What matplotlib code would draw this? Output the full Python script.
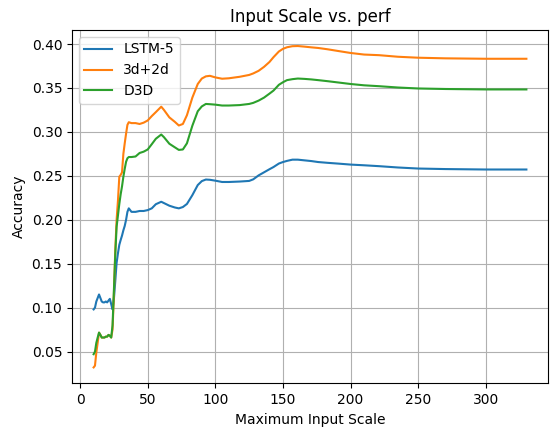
import matplotlib
matplotlib.use("Agg")
import matplotlib.pyplot as plt

x = [10, 11, 12, 13, 14, 15, 16, 17, 18, 19, 20, 21, 22, 23, 24, 25, 26, 27, 28, 29,
     30, 31, 32, 33, 34, 35, 36, 38, 41, 44, 47, 50, 53, 56, 60, 62, 66, 70, 73, 76,
     79, 83, 87, 90, 93, 96, 100, 105, 110, 118, 125, 128, 132, 136, 140, 143, 147,
     150, 153, 157, 161, 166, 171, 176, 183, 191, 200, 210, 221, 235, 250, 270, 300, 330]

lstm5 = [0.098, 0.100, 0.107, 0.111, 0.115, 0.111, 0.107, 0.106, 0.106, 0.107, 0.106,
         0.108, 0.110, 0.104, 0.098, 0.110, 0.130, 0.151, 0.162, 0.1715, 0.177, 0.182,
         0.188, 0.193, 0.200, 0.209, 0.213, 0.209, 0.209, 0.210, 0.210, 0.211, 0.213,
         0.2177, 0.2205, 0.219, 0.216, 0.214, 0.213, 0.2145, 0.218, 0.228, 0.2395,
         0.244, 0.2458, 0.2455, 0.2445, 0.243, 0.243, 0.2435, 0.2442, 0.246, 0.2505,
         0.254, 0.2575, 0.260, 0.264, 0.2657, 0.267, 0.2684, 0.2684, 0.2676, 0.2668,
         0.2657, 0.2648, 0.2639, 0.2628, 0.262, 0.261, 0.2595, 0.2583, 0.2577, 0.2572,
         0.2572]

d3d2d = [0.032, 0.034, 0.049, 0.060, 0.0716, 0.069, 0.066, 0.066, 0.066, 0.067, 0.067,
         0.069, 0.068, 0.066, 0.075, 0.115, 0.165, 0.200, 0.222, 0.249, 0.251, 0.254,
         0.275, 0.287, 0.298, 0.308, 0.311, 0.310, 0.310, 0.309, 0.3105, 0.313, 0.318,
         0.3225, 0.3287, 0.325, 0.3165, 0.3115, 0.3073, 0.309, 0.319, 0.339, 0.3545,
         0.3607, 0.3632, 0.3638, 0.362, 0.3605, 0.361, 0.3627, 0.3648, 0.3665, 0.3695,
         0.374, 0.3795, 0.385, 0.3915, 0.3945, 0.3963, 0.3975, 0.3977, 0.397, 0.3962,
         0.3955, 0.394, 0.392, 0.3898, 0.388, 0.3873, 0.3855, 0.3844, 0.3837, 0.3832,
         0.3832]

d3d = [0.047, 0.050, 0.060, 0.066, 0.0716, 0.069, 0.066, 0.066, 0.066, 0.067, 0.067,
       0.069, 0.068, 0.066, 0.080, 0.120, 0.160, 0.192, 0.205, 0.218, 0.229, 0.238,
       0.249, 0.258, 0.266, 0.270, 0.2714, 0.2714, 0.272, 0.276, 0.2775, 0.280, 0.286,
       0.2922, 0.297, 0.294, 0.2865, 0.2825, 0.2795, 0.280, 0.287, 0.307, 0.3235,
       0.329, 0.3318, 0.3315, 0.331, 0.330, 0.330, 0.3305, 0.3318, 0.333, 0.3356,
       0.339, 0.3435, 0.347, 0.3536, 0.3565, 0.3589, 0.360, 0.3607, 0.3603, 0.3597,
       0.3589, 0.3577, 0.3562, 0.3545, 0.353, 0.352, 0.3505, 0.3494, 0.3488, 0.3483,
       0.3483]

fig = plt.figure(figsize=(5.52, 4.28), dpi=100)
ax = fig.add_axes([0.1304, 0.104, 0.8624, 0.826])
ax.plot(x, lstm5, label="LSTM-5")
ax.plot(x, d3d2d, label="3d+2d")
ax.plot(x, d3d, label="D3D")
ax.set_title("Input Scale vs. perf")
ax.set_xlabel("Maximum Input Scale")
ax.set_ylabel("Accuracy")
ax.grid(True)
ax.legend(loc="upper left")
fig.savefig("out.png", dpi=100)
